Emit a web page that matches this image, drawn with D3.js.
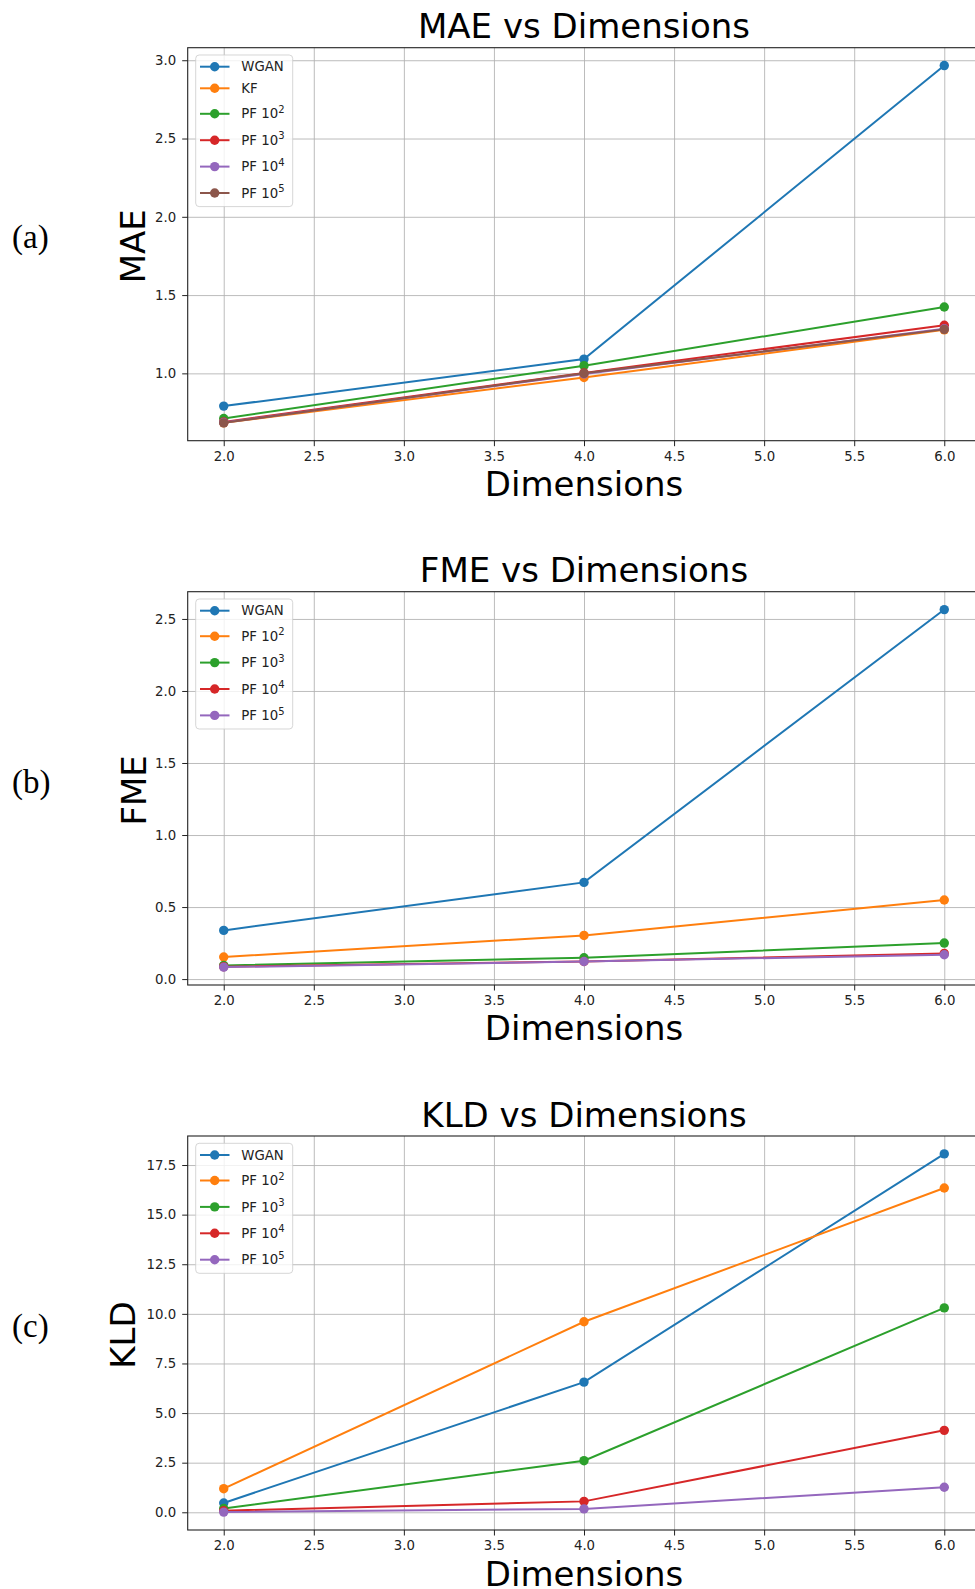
<!DOCTYPE html>
<html>
<head>
<meta charset="utf-8">
<script src="https://cdn.jsdelivr.net/npm/d3@7"></script>
<style>
  html, body { margin: 0; padding: 0; background: #fff; }
  svg { display: block; }
  text { font-family: "DejaVu Sans", sans-serif; }
</style>
</head>
<body>
<script>
// ---------------- DATA ----------------
const dimensions = [2, 4, 6];
const xTickValues = [2.0, 2.5, 3.0, 3.5, 4.0, 4.5, 5.0, 5.5, 6.0];

// (a) MAE
const maeLabels = ["WGAN", "KF", "PF 10^2", "PF 10^3", "PF 10^4", "PF 10^5"];
const maeWGAN = [0.791, 1.091, 2.966];
const maeKF   = [0.684, 0.974, 1.278];
const maePF2  = [0.712, 1.049, 1.424];
const maePF3  = [0.690, 1.003, 1.307];
const maePF4  = [0.686, 0.996, 1.285];
const maePF5  = [0.684, 1.000, 1.281];
const maeYTicks = [1.0, 1.5, 2.0, 2.5, 3.0];

// (b) FME
const fmeLabels = ["WGAN", "PF 10^2", "PF 10^3", "PF 10^4", "PF 10^5"];
const fmeWGAN = [0.338, 0.671, 2.565];
const fmePF2  = [0.153, 0.303, 0.549];
const fmePF3  = [0.095, 0.148, 0.250];
const fmePF4  = [0.086, 0.122, 0.178];
const fmePF5  = [0.083, 0.122, 0.169];
const fmeYTicks = [0.0, 0.5, 1.0, 1.5, 2.0, 2.5];

// (c) KLD
const kldLabels = ["WGAN", "PF 10^2", "PF 10^3", "PF 10^4", "PF 10^5"];
const kldWGAN = [0.47, 6.56, 18.06];
const kldPF2  = [1.19, 9.60, 16.34];
const kldPF3  = [0.19, 2.60, 10.30];
const kldPF4  = [0.08, 0.55, 4.13];
const kldPF5  = [0.01, 0.17, 1.26];
const kldYTicks = [0.0, 2.5, 5.0, 7.5, 10.0, 12.5, 15.0, 17.5];

// matplotlib tab10 colours
const palette = ["#1f77b4", "#ff7f0e", "#2ca02c", "#d62728", "#9467bd", "#8c564b"];

// ---------------- LAYOUT ----------------
const W = 975, H = 1589;
const axLeft = 187.7, axRight = 980.3;

const panels = [
  { tag: "(a)", title: "MAE vs Dimensions", ylabel: "MAE",
    labels: maeLabels, values: [maeWGAN, maeKF, maePF2, maePF3, maePF4, maePF5], yTicks: maeYTicks,
    top: 47.7, bottom: 440.7, ylabX: 144.5, xlabOff: 55, tagY: 248 },
  { tag: "(b)", title: "FME vs Dimensions", ylabel: "FME",
    labels: fmeLabels, values: [fmeWGAN, fmePF2, fmePF3, fmePF4, fmePF5], yTicks: fmeYTicks,
    top: 591.7, bottom: 985, ylabX: 145.7, xlabOff: 55, tagY: 793 },
  { tag: "(c)", title: "KLD vs Dimensions", ylabel: "KLD",
    labels: kldLabels, values: [kldWGAN, kldPF2, kldPF3, kldPF4, kldPF5], yTicks: kldYTicks,
    top: 1136, bottom: 1530, ylabX: 135, xlabOff: 55.5, tagY: 1337 }
];

const svg = d3.select("body").append("svg")
  .attr("width", W).attr("height", H)
  .attr("viewBox", `0 0 ${W} ${H}`);
svg.append("rect").attr("width", W).attr("height", H).attr("fill", "#fff");

const xMin = d3.min(dimensions), xMax = d3.max(dimensions);
const xPad = (xMax - xMin) * 0.05;
const x = d3.scaleLinear().domain([xMin - xPad, xMax + xPad]).range([axLeft, axRight]);
const fmt = d3.format(".1f");

panels.forEach(p => {
  const all = p.values.flat();
  const lo = d3.min(all), hi = d3.max(all);
  const pad = (hi - lo) * 0.05;
  const y = d3.scaleLinear().domain([lo - pad, hi + pad]).range([p.bottom, p.top]);
  const g = svg.append("g");
  const plotW = axRight - axLeft, plotH = p.bottom - p.top;

  // grid
  const gx = g.append("g").attr("transform", `translate(0,${p.bottom})`)
    .call(d3.axisBottom(x).tickValues(xTickValues).tickSize(-plotH).tickFormat(""));
  const gy = g.append("g").attr("transform", `translate(${axLeft},0)`)
    .call(d3.axisLeft(y).tickValues(p.yTicks).tickSize(-plotW).tickFormat(""));
  [gx, gy].forEach(s => {
    s.select(".domain").remove();
    s.selectAll("line").attr("stroke", "#b0b0b0").attr("stroke-width", 1).attr("stroke-opacity", 0.85);
  });

  // series
  const line = d3.line().x((d, i) => x(dimensions[i])).y(d => y(d));
  p.values.forEach((vals, si) => {
    const c = palette[si];
    g.append("path").datum(vals).attr("d", line)
      .attr("fill", "none").attr("stroke", c).attr("stroke-width", 2);
    g.selectAll(null).data(vals).enter().append("circle")
      .attr("cx", (d, i) => x(dimensions[i])).attr("cy", d => y(d))
      .attr("r", 4.7).attr("fill", c);
  });

  // spines
  g.append("rect").attr("x", axLeft).attr("y", p.top).attr("width", plotW).attr("height", plotH)
    .attr("fill", "none").attr("stroke", "#222").attr("stroke-width", 1.1);

  // tick axes
  const ax = g.append("g").attr("transform", `translate(0,${p.bottom})`)
    .call(d3.axisBottom(x).tickValues(xTickValues).tickSize(5.5).tickPadding(5).tickFormat(fmt));
  const ay = g.append("g").attr("transform", `translate(${axLeft},0)`)
    .call(d3.axisLeft(y).tickValues(p.yTicks).tickSize(5.5).tickPadding(6).tickFormat(fmt));
  [ax, ay].forEach(s => {
    s.attr("font-family", null).attr("font-size", null);
    s.select(".domain").remove();
    s.selectAll("line").attr("stroke", "#222").attr("stroke-width", 1);
    s.selectAll("text").attr("fill", "#222").style("font-size", "13.3px")
      .style("font-family", "'DejaVu Sans', sans-serif");
  });

  // title
  g.append("text").attr("x", (axLeft + axRight) / 2).attr("y", p.top - 9.5)
    .attr("text-anchor", "middle").style("font-size", "34px").attr("fill", "#000").text(p.title);
  // x label
  g.append("text").attr("x", (axLeft + axRight) / 2).attr("y", p.bottom + p.xlabOff)
    .attr("text-anchor", "middle").style("font-size", "34px").attr("fill", "#000").text("Dimensions");
  // y label
  g.append("text").attr("transform", `translate(${p.ylabX},${(p.top + p.bottom) / 2 + 2}) rotate(-90)`)
    .attr("text-anchor", "middle").style("font-size", "34px").attr("fill", "#000").text(p.ylabel);
  // panel tag
  g.append("text").attr("x", 12).attr("y", p.tagY)
    .style("font-family", "'Liberation Serif', 'DejaVu Serif', serif").style("font-size", "33px")
    .attr("fill", "#000").text(p.tag);

  // legend
  const lg = g.append("g");
  const rows = [];
  let cy = p.top + 19, prevSup = null;
  p.labels.forEach((lab, i) => {
    const hasSup = lab.includes("^");
    if (i > 0) cy += hasSup ? (prevSup ? 26.4 : 25.5) : 21.6;
    rows.push({ lab, cy, color: palette[i] });
    prevSup = hasSup;
  });
  const boxTop = p.top + 7.3, boxBottom = cy + 13.6;
  lg.append("rect").attr("x", 195.7).attr("y", boxTop).attr("width", 97).attr("height", boxBottom - boxTop)
    .attr("rx", 3.5).attr("fill", "#fff").attr("fill-opacity", 0.8)
    .attr("stroke", "#cccccc").attr("stroke-opacity", 0.8).attr("stroke-width", 1);
  rows.forEach(r => {
    lg.append("line").attr("x1", 200).attr("x2", 229.5).attr("y1", r.cy).attr("y2", r.cy)
      .attr("stroke", r.color).attr("stroke-width", 2);
    lg.append("circle").attr("cx", 214.7).attr("cy", r.cy).attr("r", 4.7).attr("fill", r.color);
    const t = lg.append("text").attr("x", 241.3).attr("y", r.cy + 4.6)
      .style("font-size", "13.3px").attr("fill", "#222");
    const parts = r.lab.split("^");
    t.append("tspan").text(parts[0]);
    if (parts.length > 1) {
      t.append("tspan").attr("dy", -5.5).style("font-size", "10px").text(parts[1]);
    }
  });
});
</script>
</body>
</html>
